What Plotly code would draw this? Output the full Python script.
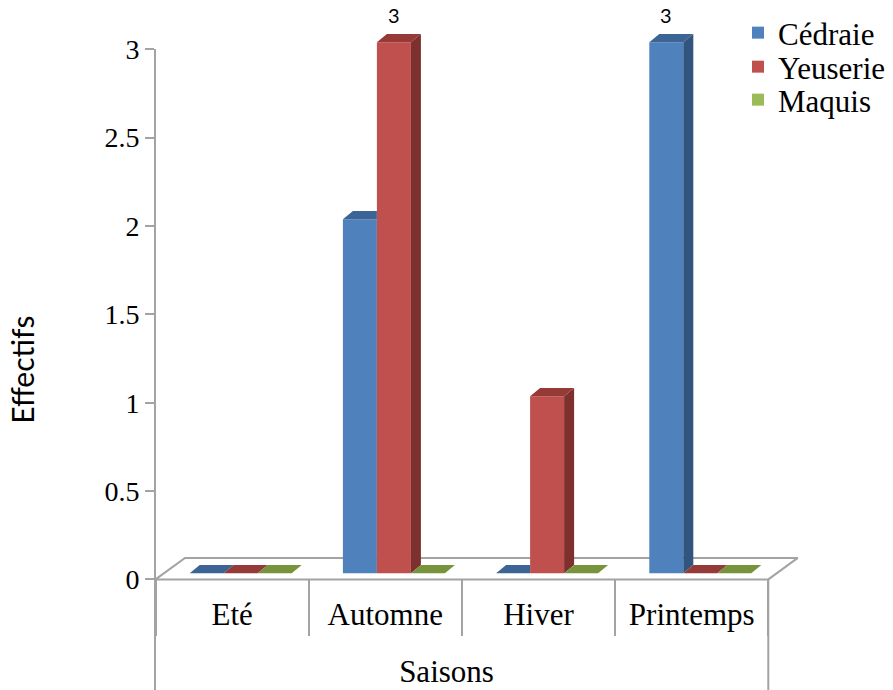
import plotly.graph_objects as go

# ---------------- data ----------------
categories = ["Eté", "Automne", "Hiver", "Printemps"]
series_names = ["Cédraie", "Yeuserie", "Maquis"]
cedraie = [0, 2, 0, 3]
yeuserie = [0, 3, 1, 0]
maquis = [0, 0, 0, 0]
y_tick_values = [0, 0.5, 1, 1.5, 2, 2.5, 3]
y_tick_labels = ["0", "0.5", "1", "1.5", "2", "2.5", "3"]
labelled_points = [("Automne", "Yeuserie"), ("Printemps", "Cédraie")]
x_title = "Saisons"
y_title = "Effectifs"

# ---------------- style ----------------
series_values = [cedraie, yeuserie, maquis]
front_colors = ["#4F81BD", "#C0504D", "#9BBB59"]
top_colors = ["#3C6595", "#953A37", "#77933C"]
side_colors = ["#32557F", "#7D302E", "#5F7530"]
GRID = "#A3A3A3"
SERIF = "Liberation Serif"
SANS = "Lato"

W, H = 893, 690
X_EDGE_PX = 155.5      # pixel of the front-left floor corner
CAT_PX = 153.2         # pixels per category
AX_PX = 155.0          # pixel of the value axis line
Y0_AX = 579.4          # pixel of value 0 on the value axis
Y_TOP = 49.3           # pixel of the top tick
Y0_BAR = 573.3         # pixel of bar base (front faces)
YB_PX = 177.0          # pixels per unit for bars

n = len(categories)
ns = len(series_names)
y_max = y_tick_values[-1]
Y_PX = (Y0_AX - Y_TOP) / y_max

GROUP_OFF = -42.4 / CAT_PX
BAR_W = 34.0 / CAT_PX
BDX = 10.0 / CAT_PX
BDY = 8.3 / YB_PX
FDX = 29.5 / CAT_PX
FDY = 21.5 / Y_PX

x_lo = -0.5 - X_EDGE_PX / CAT_PX
x_hi = x_lo + W / CAT_PX

fig = go.Figure()

# floor (on value axis coordinates)
fx = [-0.5, n - 0.5, n - 0.5 + FDX, -0.5 + FDX, -0.5]
fy = [0, 0, FDY, FDY, 0]
fig.add_trace(go.Scatter(x=fx, y=fy, mode="lines", fill="toself",
                         fillcolor="white", line=dict(color=GRID, width=2),
                         hoverinfo="skip", showlegend=False,
                         xaxis="x", yaxis="y"))

# front faces (bars)
legend_ids = ["legend", "legend2", "legend3"]
for s in range(ns):
    fig.add_trace(go.Bar(
        x=list(range(n)), y=series_values[s], name=series_names[s],
        offset=GROUP_OFF + s * BAR_W, width=BAR_W,
        marker=dict(color=front_colors[s], line=dict(width=0)),
        customdata=categories,
        hovertemplate="%{customdata}<br>" + series_names[s] + ": %{y}<extra></extra>",
        legend=legend_ids[s], xaxis="x", yaxis="y2"))

# side and top faces
for s in range(ns):
    sx, sy, tx, ty = [], [], [], []
    for i in range(n):
        v = series_values[s][i]
        vn = series_values[s + 1][i] if s + 1 < ns else 0
        xl = i + GROUP_OFF + s * BAR_W
        xr = xl + BAR_W
        if v > vn:
            sx += [xr, xr, xr + BDX, xr + BDX, xr, None]
            sy += [vn, v, v + BDY, vn + BDY, vn, None]
        if s + 1 < ns and v < vn:
            tx += [xl, xr, xr, xl + BDX, xl, None]
            ty += [v, v, v + BDY, v + BDY, v, None]
        else:
            tx += [xl, xr, xr + BDX, xl + BDX, xl, None]
            ty += [v, v, v + BDY, v + BDY, v, None]
    if sx:
        fig.add_trace(go.Scatter(x=sx, y=sy, mode="lines", fill="toself",
                                 fillcolor=side_colors[s], line=dict(width=0),
                                 hoverinfo="skip", showlegend=False,
                                 xaxis="x", yaxis="y2"))
    fig.add_trace(go.Scatter(x=tx, y=ty, mode="lines", fill="toself",
                             fillcolor=top_colors[s], line=dict(width=0),
                             hoverinfo="skip", showlegend=False,
                             xaxis="x", yaxis="y2"))

# data labels
for cat, ser in labelled_points:
    i = categories.index(cat)
    s = series_names.index(ser)
    v = series_values[s][i]
    fig.add_annotation(x=i + GROUP_OFF + s * BAR_W + BAR_W / 2, y=v,
                       xref="x", yref="y2", text=f"{v:g}", showarrow=False,
                       yshift=27, font=dict(family=SANS, size=20, color="black"))

# right outer border of the category axis
fig.add_shape(type="line", xref="x", yref="paper",
              x0=n - 0.5, x1=n - 0.5, y0=0, y1=(H - Y0_AX) / H,
              line=dict(color=GRID, width=2))

fig.update_layout(
    width=W, height=H,
    margin=dict(l=0, r=0, t=0, b=0),
    paper_bgcolor="white", plot_bgcolor="rgba(0,0,0,0)",
    barmode="overlay",
    xaxis=dict(
        domain=[0, 1], range=[x_lo, x_hi], anchor="free",
        position=(H - Y0_AX) / H,
        tickmode="array", tickvals=list(range(n)), ticktext=categories,
        ticks="", showline=False, showgrid=False, zeroline=False,
        ticklabelstandoff=14,
        tickfont=dict(family=SERIF, size=31, color="black"),
        minor=dict(tickmode="array", tickvals=[i - 0.5 for i in range(n + 1)],
                   ticks="outside", ticklen=56, tickwidth=2, tickcolor=GRID,
                   showgrid=False),
        title=dict(text=x_title, font=dict(family=SERIF, size=31, color="black"),
                   standoff=28),
        automargin=False, fixedrange=True,
    ),
    yaxis=dict(
        domain=[0, (H - Y_TOP) / H],
        range=[-(H - Y0_AX) / Y_PX, y_max], anchor="free", position=AX_PX / W,
        tickmode="array", tickvals=y_tick_values, ticktext=y_tick_labels,
        ticks="outside", ticklen=9, tickwidth=2, tickcolor=GRID,
        showline=True, linecolor=GRID, linewidth=2,
        showgrid=False, zeroline=False, ticklabelstandoff=0,
        tickfont=dict(family=SERIF, size=28, color="black"),
        title=dict(text=y_title, font=dict(family=SANS, size=30, color="black"),
                   standoff=60),
        automargin=False, fixedrange=True,
    ),
    yaxis2=dict(
        domain=[0, 1], anchor="x",
        range=[-(H - Y0_BAR) / YB_PX, Y0_BAR / YB_PX],
        visible=False, fixedrange=True,
    ),
)

legend_rows = [33, 67, 100]
for k, lid in enumerate(legend_ids):
    fig.update_layout({lid: dict(
        x=738 / W, xanchor="left", y=1 - legend_rows[k] / H, yanchor="middle",
        font=dict(family=SERIF, size=31, color="black"),
        bgcolor="rgba(0,0,0,0)", borderwidth=0)})

fig.write_html("out.html")
